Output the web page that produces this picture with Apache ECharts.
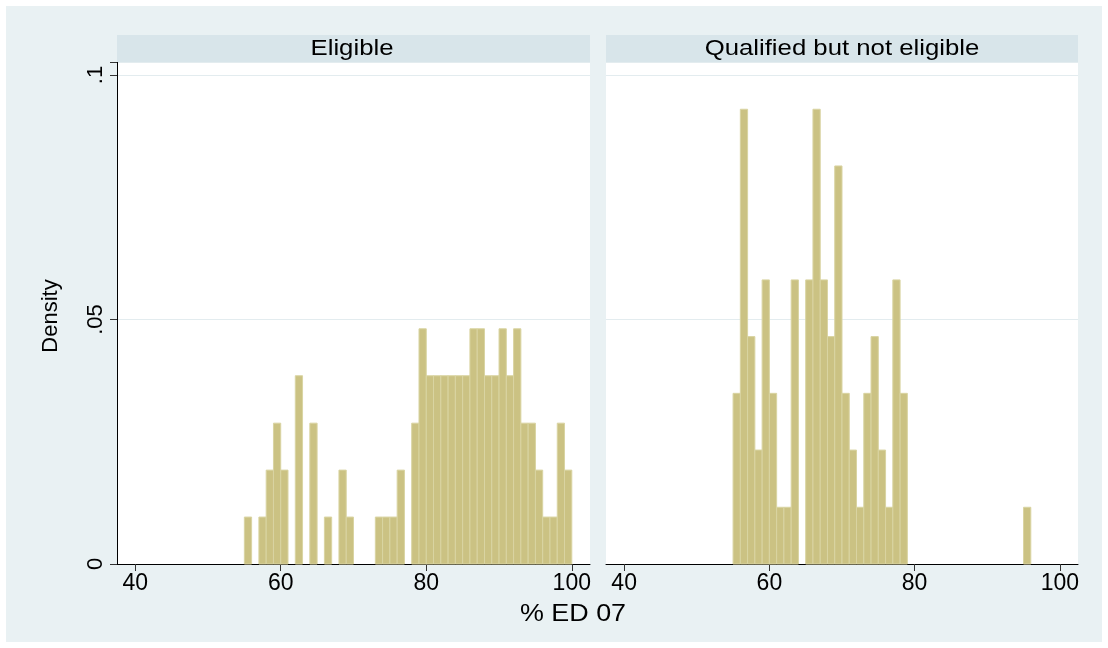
<!DOCTYPE html>
<html>
<head>
<meta charset="utf-8">
<script src="https://cdn.jsdelivr.net/npm/echarts@6/dist/echarts.min.js"></script>
<style>html,body{margin:0;padding:0;background:#fff}#c{width:1108px;height:648px}</style>
</head>
<body>
<div id="c"></div>
<script>
// ---- data ----
const panelTitles = ['Eligible', 'Qualified but not eligible'];
const xAxisTitle = '% ED 07';
const yAxisTitle = 'Density';
const xTickValues = [40, 60, 80, 100];
const yTickValues = [0, 0.05, 0.1];
const yTickLabels = ['0', '.05', '.1'];
const binWidth = 1;
const eligibleBinStart = [55,56,57,58,59,60,61,62,63,64,65,66,67,68,69,70,71,72,73,74,75,76,77,78,79,80,81,82,83,84,85,86,87,88,89,90,91,92,93,94,95,96,97,98,99];
const eligibleDensity = [0.0096,0,0.0096,0.0192,0.0288,0.0192,0,0.0385,0,0.0288,0,0.0096,0,0.0192,0.0096,0,0,0,0.0096,0.0096,0.0096,0.0192,0,0.0288,0.0481,0.0385,0.0385,0.0385,0.0385,0.0385,0.0385,0.0481,0.0481,0.0385,0.0385,0.0481,0.0385,0.0481,0.0288,0.0288,0.0192,0.0096,0.0096,0.0288,0.0192];
const qualifiedBinStart = [55,56,57,58,59,60,61,62,63,64,65,66,67,68,69,70,71,72,73,74,75,76,77,78,95];
const qualifiedDensity = [0.0349,0.0930,0.0465,0.0233,0.0581,0.0349,0.0116,0.0116,0.0581,0,0.0581,0.0930,0.0581,0.0465,0.0814,0.0349,0.0233,0.0116,0.0349,0.0465,0.0233,0.0116,0.0581,0.0349,0.0116];

// ---- style ----
const outerBg = '#E9F1F3';
const stripBg = '#D8E5EA';
const barFill = '#CBC283';
const barStroke = '#D9D4A2';
const gridLineColor = '#E3ECEF';
const fontFamily = 'Liberation Sans, Arial, sans-serif';

function toPairs(xs, ys) { return xs.map((x, i) => [x, ys[i]]); }

function renderBar(params, api) {
  const x0 = api.value(0), y = api.value(1);
  if (!y) return null;
  const p0 = api.coord([x0, y]);
  const p1 = api.coord([x0 + binWidth, 0]);
  return {
    type: 'rect',
    shape: { x: p0[0], y: p0[1], width: p1[0] - p0[0], height: p1[1] - p0[1] },
    style: { fill: barFill, stroke: barStroke, lineWidth: 1 }
  };
}

const grids = [
  { left: 117, top: 62, width: 473, height: 502 },
  { left: 606, top: 62, width: 472, height: 502 }
];

function xAxisFor(i) {
  return {
    type: 'value', gridIndex: i, min: 37.5, max: 102.5,
    axisLine: { show: true, lineStyle: { color: '#000', width: 1 } },
    axisTick: { show: true, customValues: xTickValues, length: 7, lineStyle: { color: '#333' } },
    axisLabel: { customValues: xTickValues, color: '#000', fontSize: 23, fontFamily: fontFamily, margin: 8 },
    splitLine: { show: false }
  };
}
function yAxisFor(i) {
  const shown = i === 0;
  return {
    type: 'value', gridIndex: i, min: 0, max: 0.10266, interval: 0.05,
    axisLine: { show: shown, lineStyle: { color: '#000', width: 1 } },
    axisTick: { show: shown, length: 7, lineStyle: { color: '#333' } },
    axisLabel: {
      show: shown, rotate: 90, color: '#000', fontSize: 22, fontFamily: fontFamily, margin: 10,
      formatter: v => { const k = yTickValues.findIndex(t => Math.abs(t - v) < 1e-9); return k >= 0 ? yTickLabels[k] : ''; }
    },
    splitLine: { show: true, lineStyle: { color: gridLineColor, width: 1 } }
  };
}

const chart = echarts.init(document.getElementById('c'), null, { renderer: 'canvas' });
chart.setOption({
  backgroundColor: outerBg,
  animation: false,
  grid: grids.map(g => Object.assign({ show: true, backgroundColor: '#fff', borderWidth: 0 }, g)),
  xAxis: [xAxisFor(0), xAxisFor(1)],
  yAxis: [yAxisFor(0), yAxisFor(1)],
  series: [
    { type: 'custom', xAxisIndex: 0, yAxisIndex: 0, renderItem: renderBar, encode: { x: 0, y: 1 }, data: toPairs(eligibleBinStart, eligibleDensity) },
    { type: 'custom', xAxisIndex: 1, yAxisIndex: 1, renderItem: renderBar, encode: { x: 0, y: 1 }, data: toPairs(qualifiedBinStart, qualifiedDensity) }
  ],
  graphic: [
    { type: 'rect', shape: { x: 117, y: 35, width: 473, height: 27 }, style: { fill: stripBg }, z: 10 },
    { type: 'rect', shape: { x: 606, y: 35, width: 472, height: 27 }, style: { fill: stripBg }, z: 10 },
    { type: 'text', x: 352, y: 48.5, scaleX: 1.17, style: { text: panelTitles[0], fill: '#000', font: '22px ' + fontFamily, align: 'center', verticalAlign: 'middle' }, z: 11 },
    { type: 'text', x: 842, y: 48.5, scaleX: 1.17, style: { text: panelTitles[1], fill: '#000', font: '22px ' + fontFamily, align: 'center', verticalAlign: 'middle' }, z: 11 },
    { type: 'text', x: 51, y: 316, rotation: Math.PI / 2, style: { text: yAxisTitle, fill: '#000', font: '22px ' + fontFamily, align: 'center', verticalAlign: 'middle' }, z: 11 },
    { type: 'text', x: 573, y: 614, scaleX: 1.12, style: { text: xAxisTitle, fill: '#000', font: '24px ' + fontFamily, align: 'center', verticalAlign: 'middle' }, z: 11 },
    { type: 'rect', shape: { x: 2, y: 2, width: 1104, height: 644 }, style: { fill: 'none', stroke: '#fff', lineWidth: 8 }, z: 20 }
  ]
});
</script>
</body>
</html>
